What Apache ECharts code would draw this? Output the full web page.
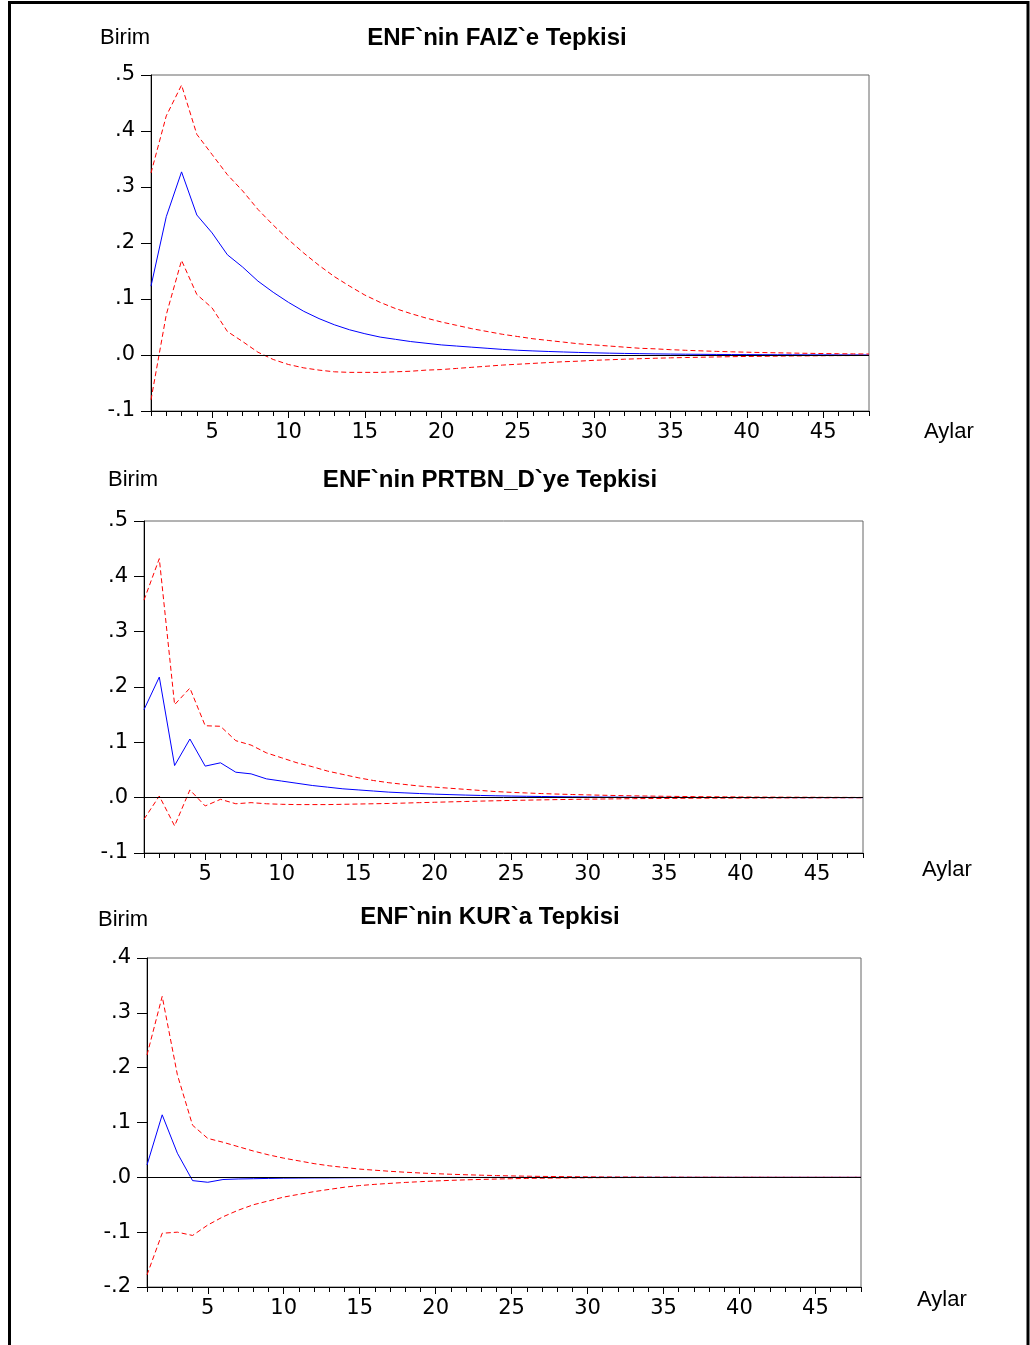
<!DOCTYPE html>
<html>
<head>
<meta charset="utf-8">
<script src="https://cdn.jsdelivr.net/npm/echarts@6/dist/echarts.min.js"></script>
<style>
html,body{margin:0;padding:0;background:#fff;}
#c{width:1030px;height:1345px;}
</style>
</head>
<body>
<div id="c"></div>
<script>
// ---- data ----
const months = Array.from({length: 48}, (_, i) => String(i + 1));

const titles = ["ENF`nin FAIZ`e Tepkisi", "ENF`nin PRTBN_D`ye Tepkisi", "ENF`nin KUR`a Tepkisi"];
const yLabel = "Birim";
const xLabel = "Aylar";

// ENF response to FAIZ
const faizResp = [0.123, 0.247, 0.327, 0.250, 0.218, 0.179, 0.157, 0.132, 0.112, 0.094, 0.078, 0.065, 0.054, 0.045, 0.038, 0.032, 0.028, 0.024, 0.021, 0.018, 0.016, 0.014, 0.012, 0.010, 0.0085, 0.0073, 0.0063, 0.0054, 0.0046, 0.0039, 0.0033, 0.0028, 0.0024, 0.002, 0.0017, 0.0014, 0.0012, 0.001, 0.0008, 0.0007, 0.0006, 0.0005, 0.0004, 0.0003, 0.0003, 0.0002, 0.0002, 0.0001];
const faizUpper = [0.325, 0.427, 0.482, 0.394, 0.358, 0.322, 0.293, 0.260, 0.232, 0.206, 0.182, 0.160, 0.140, 0.123, 0.107, 0.094, 0.083, 0.074, 0.066, 0.059, 0.053, 0.047, 0.042, 0.037, 0.033, 0.029, 0.026, 0.023, 0.020, 0.018, 0.016, 0.014, 0.012, 0.011, 0.0095, 0.0084, 0.0074, 0.0065, 0.0057, 0.005, 0.0044, 0.0039, 0.0034, 0.003, 0.0026, 0.0023, 0.002, 0.0018];
const faizLower = [-0.080, 0.072, 0.169, 0.108, 0.084, 0.042, 0.024, 0.005, -0.008, -0.017, -0.023, -0.027, -0.030, -0.031, -0.031, -0.031, -0.030, -0.029, -0.027, -0.026, -0.024, -0.022, -0.020, -0.018, -0.0165, -0.015, -0.0135, -0.012, -0.011, -0.0095, -0.0085, -0.0075, -0.0066, -0.0058, -0.0051, -0.0045, -0.004, -0.0035, -0.003, -0.0026, -0.0023, -0.002, -0.0017, -0.0015, -0.0013, -0.0011, -0.001, -0.0008];

// ENF response to PRTBN_D
const prtbnResp = [0.159, 0.218, 0.058, 0.106, 0.057, 0.063, 0.046, 0.043, 0.034, 0.030, 0.026, 0.022, 0.019, 0.016, 0.014, 0.012, 0.010, 0.0087, 0.0075, 0.0064, 0.0055, 0.0047, 0.004, 0.0034, 0.0029, 0.0025, 0.0021, 0.0018, 0.0015, 0.0013, 0.0011, 0.0009, 0.0008, 0.0007, 0.0006, 0.0005, 0.0004, 0.0003, 0.0003, 0.0002, 0.0002, 0.0002, 0.0001, 0.0001, 0.0001, 0.0001, 0.0001, 0.0001];
const prtbnUpper = [0.357, 0.432, 0.168, 0.198, 0.130, 0.129, 0.103, 0.095, 0.081, 0.072, 0.063, 0.056, 0.048, 0.042, 0.036, 0.031, 0.027, 0.024, 0.021, 0.019, 0.017, 0.015, 0.013, 0.011, 0.0096, 0.0085, 0.0074, 0.0065, 0.0057, 0.005, 0.0044, 0.0038, 0.0033, 0.0029, 0.0025, 0.0022, 0.0019, 0.0017, 0.0015, 0.0013, 0.0011, 0.001, 0.0009, 0.0008, 0.0007, 0.0006, 0.0005, 0.0004];
const prtbnLower = [-0.039, 0.003, -0.051, 0.014, -0.015, -0.003, -0.011, -0.009, -0.011, -0.012, -0.0125, -0.0125, -0.0125, -0.012, -0.0115, -0.011, -0.0105, -0.0098, -0.009, -0.0083, -0.0076, -0.0069, -0.0062, -0.0056, -0.005, -0.0045, -0.004, -0.0035, -0.0031, -0.0027, -0.0024, -0.0021, -0.0018, -0.0016, -0.0014, -0.0012, -0.001, -0.0009, -0.0008, -0.0007, -0.0006, -0.0005, -0.0004, -0.0004, -0.0003, -0.0003, -0.0002, -0.0002];

// ENF response to KUR
const kurResp = [0.0225, 0.114, 0.044, -0.006, -0.009, -0.004, -0.003, -0.0025, -0.002, -0.0015, -0.0013, -0.0011, -0.001, -0.0008, -0.0007, -0.0006, -0.0005, -0.0004, -0.0003, -0.0003, -0.0002, -0.0002, -0.0002, -0.0001, -0.0001, -0.0001, -0.0001, -0.0001, -0.0001, 0, 0, 0, 0, 0, 0, 0, 0, 0, 0, 0, 0, 0, 0, 0, 0, 0, 0, 0];
const kurUpper = [0.223, 0.330, 0.187, 0.095, 0.071, 0.064, 0.056, 0.048, 0.041, 0.035, 0.030, 0.025, 0.021, 0.018, 0.015, 0.013, 0.011, 0.0093, 0.0079, 0.0067, 0.0056, 0.0047, 0.0039, 0.0032, 0.0026, 0.0021, 0.0017, 0.0014, 0.0011, 0.0009, 0.0007, 0.0006, 0.0005, 0.0004, 0.0003, 0.0003, 0.0002, 0.0002, 0.0001, 0.0001, 0.0001, 0.0001, 0, 0, 0, 0, 0, 0];
const kurLower = [-0.178, -0.102, -0.100, -0.106, -0.087, -0.072, -0.060, -0.050, -0.043, -0.036, -0.031, -0.026, -0.022, -0.018, -0.015, -0.0128, -0.011, -0.0093, -0.0079, -0.0066, -0.0055, -0.0046, -0.0038, -0.0031, -0.0025, -0.002, -0.0016, -0.0013, -0.001, -0.0008, -0.0006, -0.0005, -0.0004, -0.0003, -0.0002, -0.0002, -0.0001, -0.0001, -0.0001, -0.0001, 0, 0, 0, 0, 0, 0, 0, 0];

const yMins = [-0.1, -0.1, -0.2];
const yMaxs = [0.5, 0.5, 0.4];

// ---- layout ----
const panels = [
  {resp: faizResp, up: faizUpper, lo: faizLower, grid: {left: 151, top: 75, width: 718, height: 336},
   titleX: 497, titleY: 38, birimX: 100, birimY: 38, aylarX: 924, aylarY: 432},
  {resp: prtbnResp, up: prtbnUpper, lo: prtbnLower, grid: {left: 144, top: 521, width: 719, height: 332},
   titleX: 490, titleY: 480, birimX: 108, birimY: 480, aylarX: 922, aylarY: 870},
  {resp: kurResp, up: kurUpper, lo: kurLower, grid: {left: 147, top: 958, width: 714, height: 329},
   titleX: 490, titleY: 917, birimX: 98, birimY: 920, aylarX: 917, aylarY: 1300}
];

const tickFont = 'DejaVu Sans, Liberation Sans, sans-serif';
const grids = [], xAxes = [], yAxes = [], series = [], graphics = [];

graphics.push({type: 'rect', shape: {x: 9.5, y: 2.5, width: 1018.5, height: 1400},
  style: {fill: 'none', stroke: '#000', lineWidth: 3}, silent: true});

panels.forEach((p, i) => {
  grids.push(Object.assign({show: true, borderColor: '#666', borderWidth: 1, backgroundColor: '#fff'}, p.grid));
  // all-integer minor ticks
  xAxes.push({type: 'category', gridIndex: i, position: 'bottom', data: months, boundaryGap: false,
    axisLine: {show: true, onZero: false, lineStyle: {color: '#000', width: 1}},
    axisTick: {show: true, interval: 0, length: 5, lineStyle: {color: '#000'}},
    axisLabel: {show: false}, splitLine: {show: false}});
  // major ticks + labels
  xAxes.push({type: 'category', gridIndex: i, position: 'bottom', offset: 0, data: months, boundaryGap: false,
    axisLine: {show: false, onZero: false},
    axisTick: {show: true, length: 7, interval: (idx) => (idx + 1) % 5 === 0, lineStyle: {color: '#000'}},
    axisLabel: {show: true, interval: (idx) => (idx + 1) % 5 === 0, margin: 11,
      fontFamily: tickFont, fontSize: 21, color: '#000'},
    splitLine: {show: false}});
  yAxes.push({type: 'value', gridIndex: i, position: 'left', min: yMins[i], max: yMaxs[i], interval: 0.1,
    axisLine: {show: true, onZero: false, lineStyle: {color: '#000', width: 1}},
    axisTick: {show: true, length: 10, lineStyle: {color: '#000'}},
    axisLabel: {show: true, margin: 16, fontFamily: tickFont, fontSize: 21, color: '#000',
      formatter: (v) => {
        let s = (Math.round(v * 10) / 10).toFixed(1);
        if (s === '-0.0') s = '0.0';
        return s.replace('0.', '.');
      }},
    splitLine: {show: false}});

  series.push({type: 'line', xAxisIndex: i * 2, yAxisIndex: i, data: p.resp, symbol: 'none',
    lineStyle: {color: '#0000ff', width: 1}, z: 3,
    markLine: {silent: true, symbol: 'none', label: {show: false},
      lineStyle: {color: '#000', width: 1, type: 'solid'}, data: [{yAxis: 0}], animation: false}});
  series.push({type: 'line', xAxisIndex: i * 2, yAxisIndex: i, data: p.up, symbol: 'none',
    lineStyle: {color: '#ff0000', width: 1, type: [5, 3]}, z: 4});
  series.push({type: 'line', xAxisIndex: i * 2, yAxisIndex: i, data: p.lo, symbol: 'none',
    lineStyle: {color: '#ff0000', width: 1, type: [5, 3]}, z: 4});

  graphics.push({type: 'text', x: p.titleX, y: p.titleY,
    style: {text: titles[i], fontFamily: 'Liberation Sans, Arial, sans-serif', fontWeight: 'bold', fontSize: 24,
      fill: '#000', textAlign: 'center', textVerticalAlign: 'middle'}});
  graphics.push({type: 'text', x: p.birimX, y: p.birimY,
    style: {text: yLabel, fontFamily: 'Liberation Sans, Arial, sans-serif', fontSize: 22,
      fill: '#000', textAlign: 'left', textVerticalAlign: 'middle'}});
  graphics.push({type: 'text', x: p.aylarX, y: p.aylarY,
    style: {text: xLabel, fontFamily: 'Liberation Sans, Arial, sans-serif', fontSize: 22,
      fill: '#000', textAlign: 'left', textVerticalAlign: 'middle'}});
});

const chart = echarts.init(document.getElementById('c'), null, {renderer: 'canvas'});
chart.setOption({
  animation: false,
  backgroundColor: '#fff',
  grid: grids,
  xAxis: xAxes,
  yAxis: yAxes,
  series: series,
  graphic: graphics
});
</script>
</body>
</html>
